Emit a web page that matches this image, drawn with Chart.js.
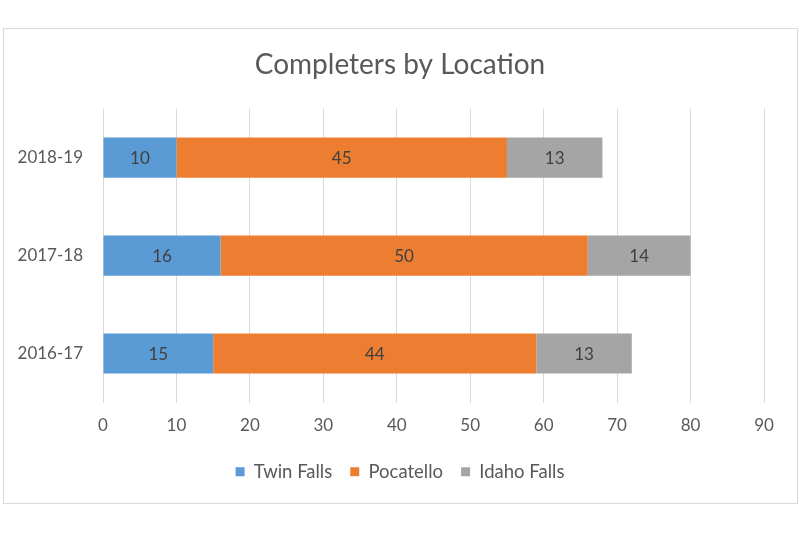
<!DOCTYPE html>
<html>
<head>
<meta charset="utf-8">
<script src="https://cdn.jsdelivr.net/npm/chart.js@4"></script>
<style>
html,body{margin:0;padding:0;background:#fff;}
#wrap{width:800px;height:533px;position:relative;}
</style>
</head>
<body>
<div id="wrap"><canvas id="c" width="800" height="533"></canvas></div>
<script>
const categories = ["2018-19", "2017-18", "2016-17"];
const twinFalls = [10, 16, 15];
const pocatello = [45, 50, 44];
const idahoFalls = [13, 14, 13];
const seriesNames = ["Twin Falls", "Pocatello", "Idaho Falls"];
const xTicks = [0, 10, 20, 30, 40, 50, 60, 70, 80, 90];

const FONT = "Lato, 'Open Sans', sans-serif";

const borderPlugin = {
  id: 'borderPlugin',
  beforeDraw(chart) {
    const ctx = chart.ctx;
    ctx.save();
    ctx.fillStyle = '#ffffff';
    ctx.fillRect(0, 0, chart.width, chart.height);
    ctx.strokeStyle = '#D9D9D9';
    ctx.lineWidth = 1;
    ctx.strokeRect(3.5, 28.5, 794, 475);
    ctx.restore();
  }
};

const labelPlugin = {
  id: 'labelPlugin',
  afterDatasetsDraw(chart) {
    const ctx = chart.ctx;
    ctx.save();
    ctx.font = "17px " + FONT;
    ctx.fillStyle = '#404040';
    ctx.textAlign = 'center';
    ctx.textBaseline = 'middle';
    chart.data.datasets.forEach((ds, di) => {
      const meta = chart.getDatasetMeta(di);
      meta.data.forEach((bar, i) => {
        const cx = (bar.x + bar.base) / 2;
        ctx.fillText(String(ds.data[i]), cx, bar.y + 1);
      });
    });
    ctx.restore();
  }
};

new Chart(document.getElementById('c'), {
  type: 'bar',
  data: {
    labels: categories,
    datasets: [
      { label: seriesNames[0], data: twinFalls, backgroundColor: '#5B9BD5' },
      { label: seriesNames[1], data: pocatello, backgroundColor: '#ED7D31' },
      { label: seriesNames[2], data: idahoFalls, backgroundColor: '#A5A5A5' }
    ]
  },
  options: {
    indexAxis: 'y',
    responsive: false,
    animation: false,
    devicePixelRatio: 1,
    layout: { padding: { top: 48, left: 3, right: 3, bottom: 42 } },
    datasets: { bar: { barPercentage: 0.41, categoryPercentage: 1.0, borderWidth: 0 } },
    scales: {
      x: {
        stacked: true,
        min: 0, max: 90,
        afterBuildTicks(scale) { scale.ticks = xTicks.map(v => ({ value: v })); },
        afterFit(scale) { scale.height = 42; },
        border: { display: false },
        grid: { color: '#D9D9D9', drawTicks: false, lineWidth: 1 },
        ticks: { color: '#595959', font: { size: 17, family: FONT }, padding: 13 }
      },
      y: {
        stacked: true,
        afterFit(scale) { scale.width = 100; },
        border: { display: false },
        grid: { display: false, drawTicks: false },
        ticks: { color: '#595959', font: { size: 17, family: FONT }, padding: 20 }
      },
      yRight: {
        type: 'category',
        axis: 'y',
        position: 'right',
        labels: categories,
        afterFit(scale) { scale.width = 33; },
        border: { display: false },
        grid: { display: false, drawTicks: false },
        ticks: { display: false }
      }
    },
    plugins: {
      title: {
        display: true,
        text: 'Completers by Location',
        color: '#595959',
        font: { size: 28, family: FONT, weight: 'normal' },
        padding: { top: 0, bottom: 27 }
      },
      legend: {
        position: 'bottom',
        labels: {
          color: '#595959',
          font: { size: 18.5, family: FONT },
          boxWidth: 9, boxHeight: 9,
          padding: 18
        }
      },
      tooltip: { enabled: false }
    }
  },
  plugins: [borderPlugin, labelPlugin]
});
</script>
</body>
</html>
